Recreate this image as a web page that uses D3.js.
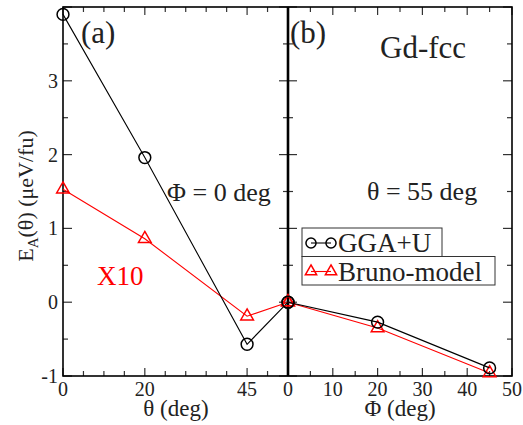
<!DOCTYPE html>
<html>
<head>
<meta charset="utf-8">
<script src="https://cdn.jsdelivr.net/npm/d3@7"></script>
<style>
  body { margin: 0; background: #fff; }
</style>
</head>
<body>
<div id="chart"></div>
<script>
'use strict';

// panel (a): energy vs theta at phi = 0
var thetaVals = [0, 20, 45, 55];
var ggaTheta = [3.9, 1.96, -0.57, 0];
var brunoTheta = [1.53, 0.86, -0.19, 0];

// panel (b): energy vs phi at theta = 55
var phiVals = [0, 20, 45];
var ggaPhi = [0, -0.27, -0.89];
var brunoPhi = [0, -0.35, -0.96];

var yTicks = [-1, 0, 1, 2, 3];
var thetaTickLabels = [0, 20, 45];
var phiTickLabels = [0, 10, 20, 30, 40, 50];

(function() {
  var W = 523, H = 425;
  var yTop = 7, yBottom = 376;
  var FONT = '"Liberation Serif"';

  var svg = d3.select('#chart').append('svg')
      .attr('width', W)
      .attr('height', H);

  // every text goes through here so the serif font sticks
  function txt(g, s, size) {
    return g.append('text')
      .attr('font-family', FONT)
      .attr('font-size', size)
      .attr('fill', '#222')
      .text(s);
  }

  var y = d3.scaleLinear().domain([-1, 4]).range([yBottom, yTop]);
  var xA = d3.scaleLinear().domain([0, 55]).range([63, 288]);
  var xB = d3.scaleLinear().domain([0, 50]).range([288, 512]);

  // minor y ticks every 0.5
  var yMajor = d3.range(-1, 4.01, 1);
  var yMinor = d3.range(-0.5, 4, 1);

  function tickLines(g, scale, vals, len, orient, pos) {
    vals.forEach(function(v) {
      var p = scale(v);
      var l = g.append('line').attr('stroke', '#333').attr('stroke-width', 1.2);
      if (orient === 'left')   l.attr('x1', pos).attr('x2', pos + len).attr('y1', p).attr('y2', p);
      if (orient === 'right')  l.attr('x1', pos).attr('x2', pos - len).attr('y1', p).attr('y2', p);
      if (orient === 'bottom') l.attr('x1', p).attr('x2', p).attr('y1', pos).attr('y2', pos - len);
      if (orient === 'top')    l.attr('x1', p).attr('x2', p).attr('y1', pos).attr('y2', pos + len);
    });
  }

  var axes = svg.append('g');

  // y ticks: left edge, middle divider (both sides), right edge
  tickLines(axes, y, yMajor, 9, 'left', 63);
  tickLines(axes, y, yMinor, 5, 'left', 63);
  tickLines(axes, y, yMajor, 9, 'right', 288);
  tickLines(axes, y, yMinor, 5, 'right', 288);
  tickLines(axes, y, yMajor, 9, 'left', 288);
  tickLines(axes, y, yMinor, 5, 'left', 288);
  tickLines(axes, y, yMajor, 9, 'right', 512);
  tickLines(axes, y, yMinor, 5, 'right', 512);

  // x ticks, every 5 deg
  var aTicks = d3.range(0, 55.1, 5);
  var aMajor = aTicks.filter(function(v) { return thetaTickLabels.indexOf(v) >= 0; });
  var aMinor = aTicks.filter(function(v) { return thetaTickLabels.indexOf(v) < 0; });
  tickLines(axes, xA, aMajor, 8, 'bottom', yBottom);
  tickLines(axes, xA, aMinor, 5, 'bottom', yBottom);
  tickLines(axes, xA, aMajor, 8, 'top', yTop);
  tickLines(axes, xA, aMinor, 5, 'top', yTop);

  var bTicks = d3.range(0, 50.1, 5);
  var bMajor = bTicks.filter(function(v) { return v % 10 === 0; });
  var bMinor = bTicks.filter(function(v) { return v % 10 !== 0; });
  tickLines(axes, xB, bMajor, 8, 'bottom', yBottom);
  tickLines(axes, xB, bMinor, 5, 'bottom', yBottom);
  tickLines(axes, xB, bMajor, 8, 'top', yTop);
  tickLines(axes, xB, bMinor, 5, 'top', yTop);

  // frame
  axes.append('rect')
      .attr('x', 63).attr('y', yTop)
      .attr('width', 512 - 63).attr('height', yBottom - yTop)
      .attr('fill', 'none').attr('stroke', '#000').attr('stroke-width', 1.6);
  axes.append('line')
      .attr('x1', 288).attr('x2', 288).attr('y1', yTop).attr('y2', yBottom)
      .attr('stroke', '#000').attr('stroke-width', 2.6);

  // tick labels
  var labels = svg.append('g');
  yTicks.forEach(function(v) {
    txt(labels, v, 20).attr('x', 58).attr('y', y(v) + 7).attr('text-anchor', 'end');
  });
  thetaTickLabels.forEach(function(v) {
    txt(labels, v, 20).attr('x', xA(v)).attr('y', 396).attr('text-anchor', 'middle');
  });
  phiTickLabels.forEach(function(v) {
    txt(labels, v, 20).attr('x', xB(v)).attr('y', 396).attr('text-anchor', 'middle');
  });

  // axis titles
  txt(svg, '\u03b8 (deg)', 23).attr('x', 176).attr('y', 416).attr('text-anchor', 'middle');
  txt(svg, '\u03a6 (deg)', 23).attr('x', 400).attr('y', 416).attr('text-anchor', 'middle');

  var yl = txt(svg, null, 22)
      .attr('transform', 'translate(33,196) rotate(-90)')
      .attr('text-anchor', 'middle');
  yl.append('tspan').text('E');
  yl.append('tspan').attr('font-size', 15).attr('dy', 5).text('A');
  yl.append('tspan').attr('dy', -5).text('(\u03b8) (\u03bceV/fu)');

  // data lines and markers
  var circle = d3.symbol(d3.symbolCircle, 110);
  var tri = d3.symbol(d3.symbolTriangle, 70);

  function series(g, xs, vals, xScale, color, sym) {
    var pts = xs.map(function(v, i) { return [xScale(v), y(vals[i])]; });
    g.append('path')
      .attr('d', d3.line()(pts))
      .attr('fill', 'none').attr('stroke', color).attr('stroke-width', 1.1);
    g.selectAll(null).data(pts).enter().append('path')
      .attr('transform', function(d) { return 'translate(' + d[0] + ',' + d[1] + ')'; })
      .attr('d', sym)
      .attr('fill', 'none').attr('stroke', color).attr('stroke-width', 1.5);
  }

  var plot = svg.append('g');
  series(plot, thetaVals, brunoTheta, xA, '#ff0000', tri);
  series(plot, thetaVals, ggaTheta, xA, '#000', circle);
  series(plot, phiVals, brunoPhi, xB, '#ff0000', tri);
  series(plot, phiVals, ggaPhi, xB, '#000', circle);

  // annotations
  var ann = svg.append('g');
  txt(ann, '(a)', 31).attr('x', 81).attr('y', 43);
  txt(ann, '(b)', 31).attr('x', 290).attr('y', 43);
  txt(ann, 'Gd-fcc', 31).attr('x', 380).attr('y', 58);
  txt(ann, '\u03a6 = 0 deg', 26).attr('x', 167).attr('y', 201);
  txt(ann, '\u03b8 = 55 deg', 26).attr('x', 367).attr('y', 200);
  txt(ann, 'X10', 27).attr('x', 97).attr('y', 285).attr('fill', '#ff0000');

  // legend
  var legendNames = ['GGA+U', 'Bruno-model'];
  var legendColors = ['#000', '#ff0000'];
  var legendSyms = [d3.symbol(d3.symbolCircle, 80), d3.symbol(d3.symbolTriangle, 55)];
  var legendBoxW = [140, 193];
  var leg = svg.append('g');
  legendNames.forEach(function(name, i) {
    var y0 = 228 + i * 28.5;
    leg.append('rect')
      .attr('x', 302).attr('y', y0).attr('width', legendBoxW[i]).attr('height', 28.5)
      .attr('fill', '#fff').attr('stroke', '#333').attr('stroke-width', 1);
    leg.append('line')
      .attr('x1', 311).attr('x2', 331).attr('y1', y0 + 15).attr('y2', y0 + 15)
      .attr('stroke', legendColors[i]).attr('stroke-width', 1.1);
    [311, 331].forEach(function(cx) {
      leg.append('path')
        .attr('transform', 'translate(' + cx + ',' + (y0 + 15) + ')')
        .attr('d', legendSyms[i])
        .attr('fill', 'none').attr('stroke', legendColors[i]).attr('stroke-width', 1.5);
    });
    txt(leg, name, 27).attr('x', 338).attr('y', y0 + 24);
  });
})();
</script>
</body>
</html>
